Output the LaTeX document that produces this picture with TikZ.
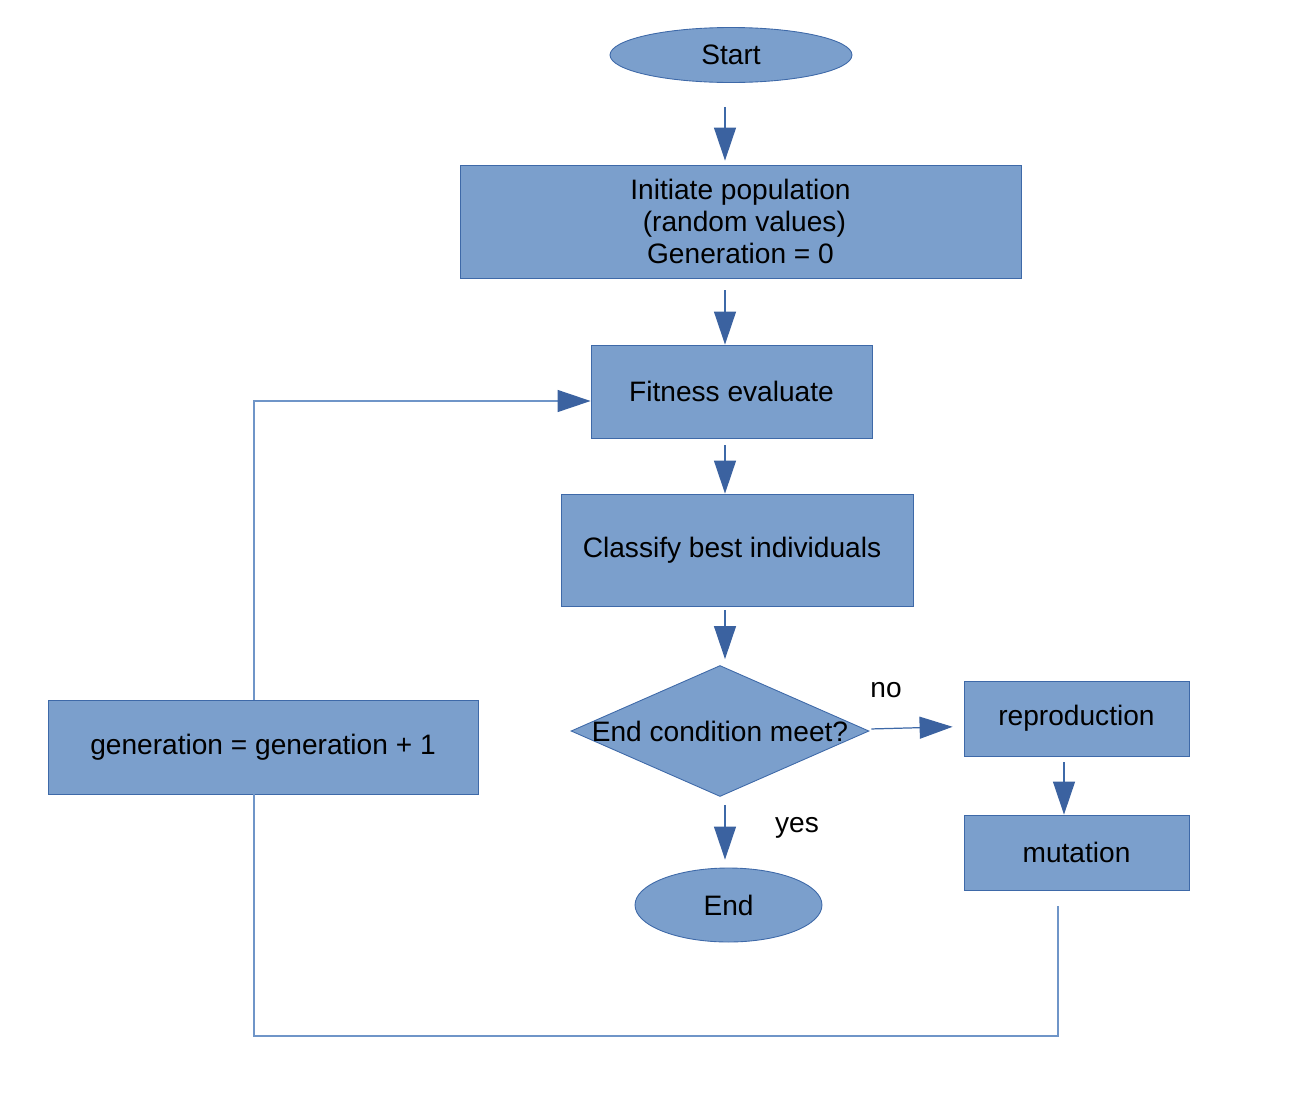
\documentclass[tikz,border=0pt]{standalone}
\usepackage{fontspec}
\setmainfont{Liberation Sans}
\usetikzlibrary{shapes.geometric,arrows.meta}
\definecolor{boxfill}{HTML}{7B9FCC}
\definecolor{boxline}{HTML}{3E69A8}
\definecolor{tipfill}{HTML}{3B62A0}
\definecolor{loopline}{HTML}{6F95C8}
\begin{document}
\begin{tikzpicture}[x=0.02cm,y=-0.02cm,
   every node/.style={font=\fontsize{16}{18.2}\selectfont},
   block/.style={draw=boxline,fill=boxfill,line width=0.5pt,align=center,inner sep=0pt},
   term/.style={block,ellipse},
   arr/.style={draw=boxline,line width=0.7pt,-{Triangle[length=0.66cm,width=0.44cm,color=tipfill]}},
   back/.style={draw=loopline,line width=0.7pt}]
   \useasboundingbox (0,0) rectangle (1308,1116);

   \node[term,minimum width=4.84cm,minimum height=1.1cm] (start) at (731,55) {Start};
   \node[block,minimum width=11.22cm,minimum height=2.26cm] (init) at (740.5,221.5)
      {Initiate population\\ \ (random values)\\Generation = 0};
   \node[block,minimum width=5.62cm,minimum height=1.86cm] (fit) at (731.5,391.5) {Fitness evaluate};
   \node[block,minimum width=7.04cm,minimum height=2.24cm] (cls) at (737,550)
      {Classify best individuals\hspace*{0.2cm}};
   \node[block,diamond,minimum width=5.96cm,minimum height=2.62cm,
      label=center:{End condition meet?}] (cond) at (720,731) {};
   \node[term,minimum width=3.74cm,minimum height=1.48cm] (end) at (728.5,905) {End};
   \node[block,minimum width=4.5cm,minimum height=1.5cm] (repro) at (1076.5,718.5) {reproduction};
   \node[block,minimum width=4.5cm,minimum height=1.5cm] (mut) at (1076.5,852.5) {mutation};
   \node[block,minimum width=8.6cm,minimum height=1.88cm] (gen) at (263,747) {generation = generation + 1};
   \node (no) at (886,690) {no};
   \node (yes) at (797,828) {yes};

   \coordinate (spine) at (725,0);
   \coordinate (rx) at (1064,0);
   \coordinate (corner) at (254,1036);
   \coordinate (bend) at (1058,1036);

   \draw[arr,shorten <=0.48cm,shorten >=0.08cm] (start.south -| spine) -- (init.north -| spine);
   \draw[arr,shorten <=0.24cm] (init.south -| spine) -- (fit.north -| spine);
   \draw[arr,shorten <=0.14cm] (fit.south -| spine) -- (cls.north -| spine);
   \draw[arr,shorten <=0.08cm,shorten >=0.12cm] (cls.south -| spine) -- (cond.north -| spine);
   \draw[arr,shorten <=0.16cm,shorten >=0.16cm] (cond.south -| spine) -- (end.north -| spine);
   \draw[arr,shorten <=0.04cm,shorten >=0.22cm] ([yshift=0.04cm]cond.east) -- ([yshift=-0.16cm]repro.west);
   \draw[arr,shorten <=0.12cm] (repro.south -| rx) -- (mut.north -| rx);
   \draw[back,shorten <=0.32cm] (mut.south -| bend) -- (bend) -- (corner) -- (gen.south -| corner);
   \draw[arr,draw=loopline] (gen.north -| corner) |- ([yshift=-0.19cm]fit.west);
\end{tikzpicture}
\end{document}
